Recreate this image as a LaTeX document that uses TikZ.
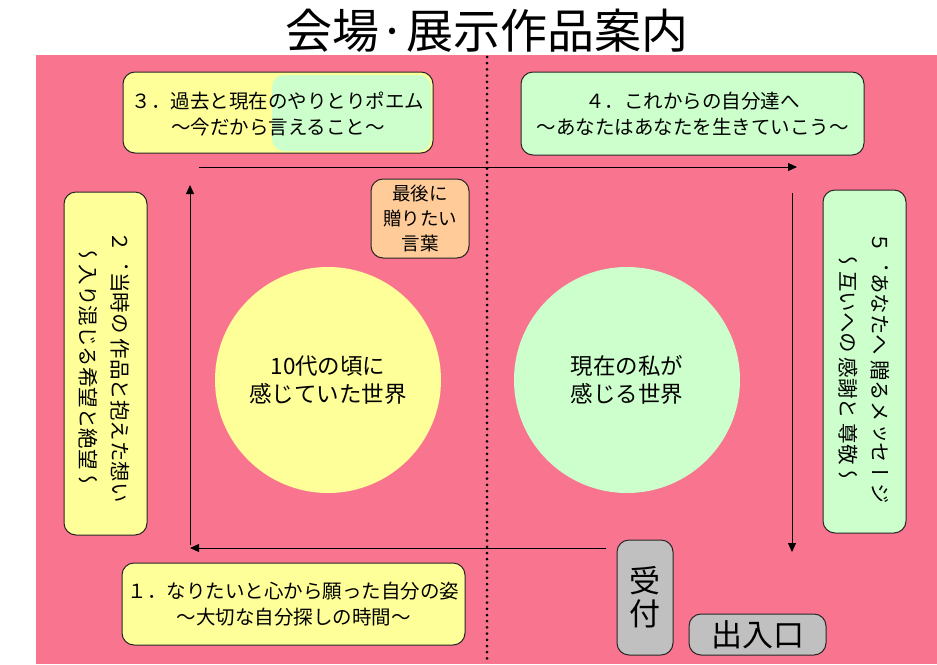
\documentclass[tikz,border=0pt]{standalone}
\usepackage{fontspec}
\setmainfont{Noto Sans CJK JP}
\newfontfamily\vjp[Vertical=RotatedGlyphs,RawFeature={+vert}]{Noto Sans CJK JP}
\usetikzlibrary{arrows.meta}
\definecolor{bgpink}{RGB}{249,117,143}
\definecolor{boxyellow}{RGB}{255,255,153}
\definecolor{boxgreen}{RGB}{204,255,204}
\definecolor{boxorange}{RGB}{255,204,153}
\definecolor{boxgray}{RGB}{192,192,192}
\begin{document}
\begin{tikzpicture}[x=1pt,y=-1pt,
  panel/.style={draw=black!85,line width=1pt,rounded corners=12pt,inner sep=0pt,align=center},
  ybox/.style={panel,fill=boxyellow},
  gbox/.style={panel,fill=boxgreen},
  obox/.style={panel,fill=boxorange},
  graybox/.style={panel,fill=boxgray},
  circ/.style={circle,inner sep=0pt,minimum size=226pt,align=center,font=\fontsize{22.5}{28}\selectfont},
  txt/.style={font=\fontsize{19.5}{26}\selectfont},
  vtxt/.style={font=\vjp\fontsize{20.5}{32}\selectfont,rotate=-90,align=center},
  flow/.style={line width=1pt,-{Triangle[length=9pt,width=8pt]}}
]
\useasboundingbox (0,0) rectangle (937,664);
\fill[bgpink] (36,55) rectangle (937,664);
\node (title) at (487,31) {\fontsize{47}{50}\selectfont 会場·展示作品案内};
\coordinate (dtop) at (487,57);
\coordinate (dbot) at (487,664);
\draw[line width=3pt,line cap=round,dash pattern=on 0pt off 6.2pt] (dtop) -- (dbot);

% box 3
\node[ybox,minimum width=310pt,minimum height=81pt] (b3) at (278,112.5) {};
\node[fill=boxgreen,rounded corners=12pt,minimum width=159pt,minimum height=76pt,inner sep=0pt] (b3g) at (351.5,113) {};
\node[txt,align=center] (t3) at (278,114) {３．過去と現在のやりとりポエム\\～今だから言えること～};

% box 4
\node[gbox,minimum width=343pt,minimum height=83pt,txt] (b4) at (692.5,113.5) {４．これからの自分達へ\\～あなたはあなたを生きていこう～};

% box 2
\node[ybox,minimum width=83pt,minimum height=343pt] (b2) at (105.5,363.5) {};
\node[vtxt] (t2) at (104,367) {２．当時の 作品と抱えた想い\\～入り混じる希望と絶望～};

% box 5
\node[gbox,minimum width=83pt,minimum height=343pt] (b5) at (864.5,361.5) {};
\node[vtxt] (t5) at (864,368) {５．あなたへ 贈るメッセージ\\～互いへの 感謝と 尊敬～};

% box 1
\node[ybox,minimum width=343pt,minimum height=82pt,txt] (b1) at (293.5,604) {１．なりたいと心から願った自分の姿\\～大切な自分探しの時間～};

% orange box
\node[obox,minimum width=98pt,minimum height=79pt,font=\fontsize{18.5}{25}\selectfont] (bo) at (420,218.5) {最後に\\贈りたい\\言葉};

% circles
\node[circ,fill=boxyellow] (cy) at (328,380) {10代の頃に\\感じていた世界};
\node[circ,fill=boxgreen] (cg) at (627,380) {現在の私が\\感じる世界};

% reception and entrance
\node[graybox,minimum width=56pt,minimum height=115pt,font=\fontsize{31}{33}\selectfont] (rec) at (645,597.5) {受\\付};
\node[graybox,minimum width=137pt,minimum height=41pt,font=\fontsize{31}{33}\selectfont] (ent) at (757.5,634.5) {出入口};

% flow arrows
\coordinate (p1s) at (199,167);
\coordinate (p1e) at (797,167);
\coordinate (p2s) at (792,193);
\coordinate (p2e) at (792,552);
\coordinate (p3s) at (606,548);
\coordinate (p3e) at (190,548);
\coordinate (p4s) at (190,545);
\coordinate (p4e) at (190,185);
\draw[flow] (p1s) -- (p1e);
\draw[flow] (p2s) -- (p2e);
\draw[flow] (p3s) -- (p3e);
\draw[flow] (p4s) -- (p4e);
\end{tikzpicture}
\end{document}
